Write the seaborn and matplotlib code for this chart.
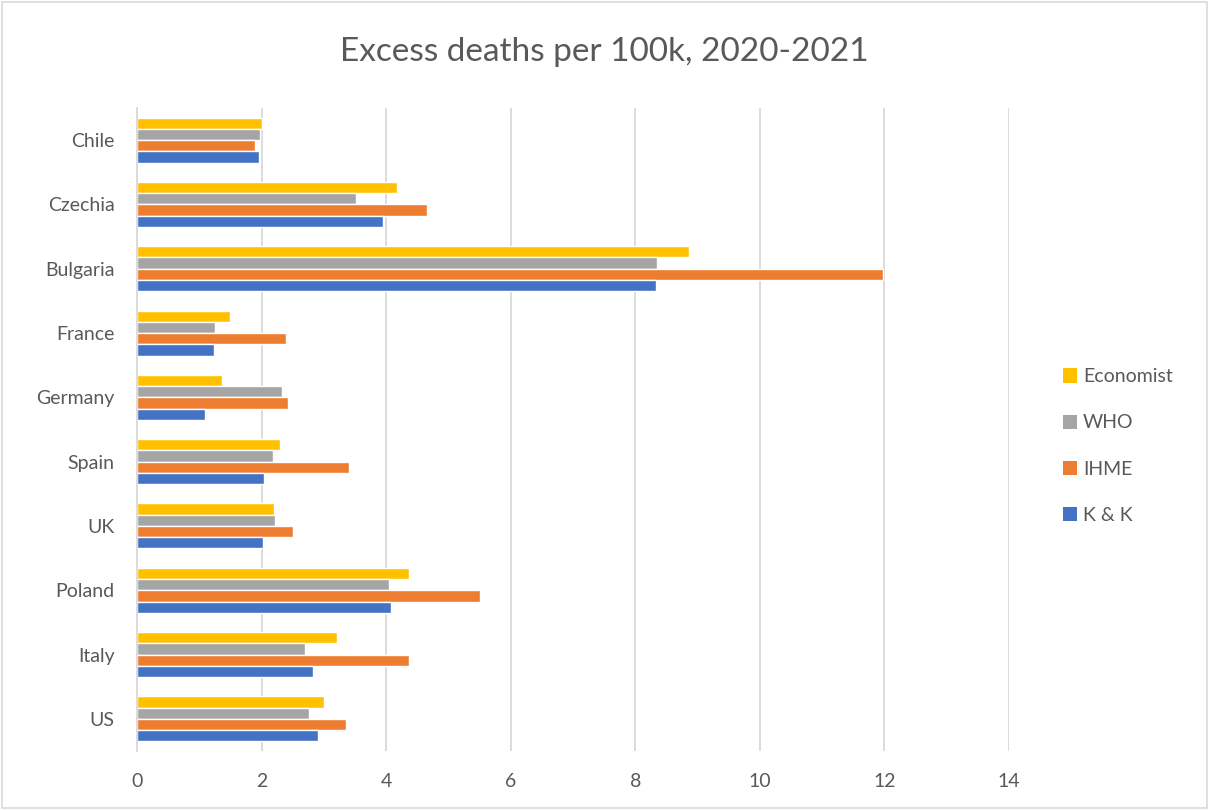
import matplotlib
matplotlib.use("Agg")
import matplotlib.pyplot as plt
import seaborn as sns
import pandas as pd
from matplotlib.patches import Patch, Rectangle

countries = ["Chile", "Czechia", "Bulgaria", "France", "Germany", "Spain", "UK", "Poland", "Italy", "US"]
economist = [2.00, 4.17, 8.86, 1.50, 1.37, 2.30, 2.20, 4.37, 3.21, 3.00]
who = [1.98, 3.52, 8.35, 1.26, 2.33, 2.18, 2.21, 4.04, 2.70, 2.76]
ihme = [1.90, 4.66, 11.98, 2.39, 2.43, 3.40, 2.51, 5.50, 4.36, 3.35]
kk = [1.96, 3.95, 8.34, 1.23, 1.09, 2.04, 2.02, 4.07, 2.83, 2.91]
series_names = ["Economist", "WHO", "IHME", "K & K"]
colors = ["#FFC000", "#A5A5A5", "#ED7D31", "#4472C4"]
xticks = [0, 2, 4, 6, 8, 10, 12, 14]
title = "Excess deaths per 100k, 2020-2021"

rows = []
for name, vals in zip(series_names, [economist, who, ihme, kk]):
    for c, v in zip(countries, vals):
        rows.append({"country": c, "source": name, "value": v})
df = pd.DataFrame(rows)

sns.set_theme(style="white")
plt.rcParams["font.family"] = ["Lato", "DejaVu Sans"]

fig = plt.figure(figsize=(12.09, 8.10), dpi=100)
ax = fig.add_axes([137 / 1209, 1 - 751 / 810, (1009 - 137) / 1209, (751 - 108) / 810])

sns.barplot(data=df, y="country", x="value", hue="source", order=countries,
            hue_order=series_names, palette=colors, orient="h", width=0.70,
            ax=ax, legend=False, saturation=1)

ax.set_xlim(0, 14)
ax.set_xticks(xticks)
ax.set_xticklabels([str(t) for t in xticks], fontsize=14, color="#595959")
ax.tick_params(axis="y", labelsize=14, labelcolor="#595959", length=0, pad=16)
ax.tick_params(axis="x", length=0, pad=16)
ax.set_xlabel("")
ax.set_ylabel("")
ax.grid(axis="x", color="#D9D9D9", linewidth=1.3)
ax.set_axisbelow(True)
for s in ["top", "right", "bottom"]:
    ax.spines[s].set_visible(False)
ax.spines["left"].set_color("#D9D9D9")
ax.spines["left"].set_linewidth(1.3)

fig.text(0.5, 1 - 52 / 810, title, ha="center", va="center", fontsize=24, color="#595959")

handles = [Patch(facecolor=c, edgecolor="none") for c in colors]
fig.legend(handles, series_names, loc="center left", bbox_to_anchor=(1045 / 1209, 1 - 446 / 810),
           frameon=False, fontsize=14, labelspacing=1.5, handlelength=0.75, handleheight=0.75,
           handletextpad=0.3, labelcolor="#595959")

fig.patches.append(Rectangle((0.002, 0.002), 0.996, 0.996, transform=fig.transFigure,
                             fill=False, edgecolor="#D9D9D9", linewidth=1.2))

fig.savefig("out.png", dpi=100)
